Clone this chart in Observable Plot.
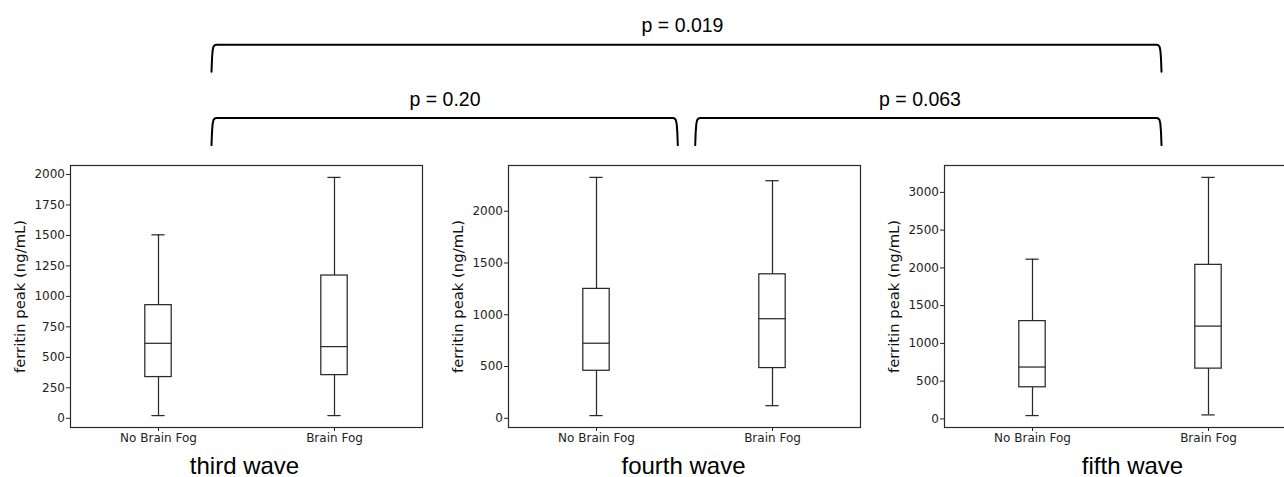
<!DOCTYPE html>
<html>
<head>
<meta charset="utf-8">
<script src="https://cdn.jsdelivr.net/npm/d3@7"></script>
<script src="https://cdn.jsdelivr.net/npm/@observablehq/plot@0.6"></script>
<style>
  html, body { margin: 0; padding: 0; background: #fff; }
  #chart { position: relative; width: 1284px; height: 477px; overflow: hidden; background: #fff; }
  #chart > div { position: absolute; }
  #chart svg { overflow: visible; max-width: none !important; }
</style>
</head>
<body>
<div id="chart"></div>
<script>
// ---- data ----
const categories = ["No Brain Fog", "Brain Fog"];
const waves = ["third wave", "fourth wave", "fifth wave"];
const yLabel = "ferritin peak (ng/mL)";
// per wave: [No Brain Fog, Brain Fog]
const whiskerLow  = [[22, 22],   [26, 122],   [44, 53]];
const q1          = [[338, 354], [459, 485],  [419, 666]];
const median      = [[615, 588], [725, 962],  [687, 1229]];
const q3          = [[928, 1171],[1250, 1391],[1295, 2040]];
const whiskerHigh = [[1505, 1976],[2327, 2295],[2115, 3198]];
const yTicks = [
  [0, 250, 500, 750, 1000, 1250, 1500, 1750, 2000],
  [0, 500, 1000, 1500, 2000],
  [0, 500, 1000, 1500, 2000, 2500, 3000]
];
// comparisons between waves (wave index)
const pLabels = ["p = 0.20", "p = 0.063", "p = 0.019"];
const pFrom   = [0, 1, 0];
const pTo     = [1, 2, 2];
const pLevel  = [0, 0, 1];

(function () {
// ---- layout ----
const chart = document.getElementById("chart");
const panelTop = 150;
const frameLefts = [70, 508.3, 944];
const frameW = 352;
const titleDx = [-2, -1, 12];
const boxW = 0.15;

function place(node, left, topPx, w) {
  const d = document.createElement("div");
  d.style.left = left + "px";
  d.style.top = topPx + "px";
  d.style.width = w + "px";
  d.appendChild(node);
  chart.appendChild(d);
}

waves.forEach((wave, i) => {
  const rows = categories.map((c, j) => ({
    pos: j + 1,
    lo: whiskerLow[i][j], q1: q1[i][j], med: median[i][j], q3: q3[i][j], hi: whiskerHigh[i][j]
  }));
  const lo = d3.min(rows, d => d.lo), hi = d3.max(rows, d => d.hi);
  const pad = 0.05 * (hi - lo);
  const stroke = "#2a2a2a", sw = 1.25;
  const W = 70 + frameW + 10;
  const p = Plot.plot({
    width: W,
    height: 327,
    marginLeft: 70, marginRight: 10, marginTop: 15, marginBottom: 50,
    x: {domain: [0.5, 2.5]},
    y: {domain: [lo - pad, hi + pad]},
    style: {fontFamily: "'DejaVu Sans', sans-serif", fontSize: "12px", color: "#222", background: "transparent"},
    marks: [
      Plot.axisY({ticks: yTicks[i], tickSize: 4, tickPadding: 1.5, label: null, fontSize: 12, tickFormat: d => String(d)}),
      Plot.axisX({ticks: [1, 2], tickFormat: d => categories[d - 1], tickSize: 4, tickPadding: 2.3, label: null, fontSize: 12}),
      Plot.ruleX(rows, {x: "pos", y1: "q3", y2: "hi", stroke, strokeWidth: sw}),
      Plot.ruleX(rows, {x: "pos", y1: "lo", y2: "q1", stroke, strokeWidth: sw}),
      Plot.ruleY(rows, {y: "hi", x1: d => d.pos - boxW / 4, x2: d => d.pos + boxW / 4, stroke, strokeWidth: sw}),
      Plot.ruleY(rows, {y: "lo", x1: d => d.pos - boxW / 4, x2: d => d.pos + boxW / 4, stroke, strokeWidth: sw}),
      Plot.rect(rows, {x1: d => d.pos - boxW / 2, x2: d => d.pos + boxW / 2, y1: "q1", y2: "q3", fill: "white", stroke, strokeWidth: sw}),
      Plot.ruleY(rows, {y: "med", x1: d => d.pos - boxW / 2, x2: d => d.pos + boxW / 2, stroke, strokeWidth: sw}),
      Plot.frame({stroke: "#2a2a2a", strokeWidth: 1.2}),
      Plot.text([yLabel], {text: d => d, frameAnchor: "left", textAnchor: "middle", lineAnchor: "middle",
        dx: -50, rotate: -90, fontSize: 14.8, fill: "#111"}),
      Plot.text([wave], {text: d => d, frameAnchor: "bottom", dx: titleDx[i], dy: 46, lineAnchor: "bottom",
        fontSize: 24, fontFamily: "'Liberation Sans', Arial, sans-serif", fill: "#000"})
    ]
  });
  place(p, frameLefts[i] - 70, panelTop, W);
});

// ---- comparison brackets ----
const xr = [211, 1161];          // pixel range of wave index 0..2
const yr = [117.6, 44.3];        // pixel range of bracket level 0..1
const pxPerX = (xr[1] - xr[0]) / 2;
const pxPerY = (yr[0] - yr[1]) / 1;
const drop = 27, inset = 8.7;
const bracketPts = [];
pLabels.forEach((lab, k) => {
  const a = pFrom[k], b = pTo[k], lev = pLevel[k];
  const xa = a + ((a === 1) ? inset : 0) / pxPerX;
  const xb = b - ((b === 1) ? inset : 0) / pxPerX;
  const dx = px => px / pxPerX, dy = px => px / pxPerY;
  const pts = [
    [xa, lev - dy(drop)],
    [xa + dx(0.5), lev - dy(14)],
    [xa + dx(1.1), lev - dy(6)],
    [xa + dx(1.9), lev - dy(2)],
    [xa + dx(3.2), lev - dy(0.4)],
    [xa + dx(5), lev],
    [xb - dx(5), lev],
    [xb - dx(3.2), lev - dy(0.4)],
    [xb - dx(1.9), lev - dy(2)],
    [xb - dx(1.1), lev - dy(6)],
    [xb - dx(0.5), lev - dy(14)],
    [xb, lev - dy(drop)]
  ];
  pts.forEach(([x, y]) => bracketPts.push({id: k, x, y}));
});
const brackets = pLabels.map((lab, k) => ({label: lab, x: (pFrom[k] + pTo[k]) / 2, y: pLevel[k]}));

const bracketPlot = Plot.plot({
  width: 1284, height: 150,
  marginLeft: 0, marginRight: 0, marginTop: 0, marginBottom: 0,
  x: {domain: [0, 2], range: xr, axis: null},
  y: {domain: [0, 1], range: yr, axis: null},
  style: {background: "transparent"},
  marks: [
    Plot.line(bracketPts, {x: "x", y: "y", z: "id", stroke: "#000", strokeWidth: 2, strokeLinejoin: "round", curve: "linear"}),
    Plot.text(brackets, {x: "x", y: "y", text: "label", dx: -4, dy: -12.5, lineAnchor: "bottom",
      fontSize: 19.5, fontFamily: "'Liberation Sans', Arial, sans-serif", fill: "#000"})
  ]
});
place(bracketPlot, 0, 0, 1284);
})();
</script>
</body>
</html>
